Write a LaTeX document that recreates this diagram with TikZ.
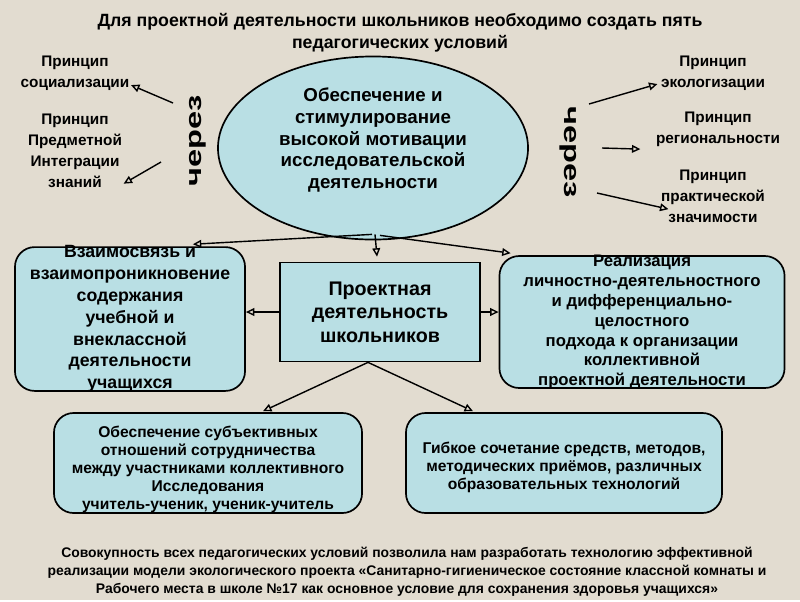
\documentclass[tikz,border=0pt]{standalone}
\usepackage{fontspec}
\setmainfont{Liberation Sans}
\usetikzlibrary{shapes.geometric, arrows.meta, positioning, calc}
\definecolor{bgcolor}{RGB}{226,220,208}
\definecolor{boxcolor}{RGB}{185,223,228}

\begin{document}
\begin{tikzpicture}[
    x=0.025cm, y=-0.025cm,
    box/.style={draw, line width=1.2pt, fill=boxcolor, rounded corners=14pt, align=center, inner xsep=2pt, inner ysep=-1pt},
    arrow/.style={-{Triangle[open, length=6pt, width=5.5pt]}, line width=1pt},
    principle/.style={align=center, font=\bfseries\fontsize{10.9}{15}\selectfont, inner sep=1pt},
    through/.style={font=\bfseries\fontsize{16}{16}\selectfont, inner sep=0pt}
]
    \fill[bgcolor] (0,0) rectangle (800,600);

    \node[align=center, font=\bfseries\fontsize{12.6}{15.6}\selectfont] (title) at (400,33) {Для проектной деятельности школьников необходимо создать пять\\педагогических условий};

    \node[ellipse, draw, line width=1.2pt, fill=boxcolor, minimum width=7.75cm, minimum height=4.575cm, inner sep=0pt, align=center, text depth=14pt, font=\bfseries\fontsize{13.3}{15.6}\selectfont] (motiv) at (373,148) {Обеспечение и\\стимулирование\\высокой мотивации\\исследовательской\\деятельности};

    \node[through, rotate=90] (throughl) at (198,141) {\scalebox{1.45}[1]{через}};
    \node[through, rotate=-90] (throughr) at (568,152) {\scalebox{1.45}[1]{через}};

    \node[principle] (soc) at (75,73) {Принцип\\социализации};
    \node[principle] (integ) at (75,151) {Принцип\\Предметной\\Интеграции\\знаний};
    \node[principle] (eco) at (713,73) {Принцип\\экологизации};
    \node[principle] (reg) at (718,129) {Принцип\\региональности};
    \node[principle] (prakt) at (713,196) {Принцип\\практической\\значимости};

    \coordinate (fromsoc) at (173,103);
    \coordinate (frominteg) at (161,162);
    \coordinate (fromeco) at (589,104);
    \coordinate (fromreg) at (602,148);
    \coordinate (fromprakt) at (597,193);
    \draw[arrow] (fromsoc) -- ([shift={(0,-7)}]soc.south east);
    \draw[arrow] (frominteg) -- ([shift={(0,-6)}]integ.south east);
    \draw[arrow] (fromeco) -- ([shift={(-2,-8)}]eco.south west);
    \draw[arrow] (fromreg) -- ([shift={(-14,1)}]reg.south west);
    \draw[arrow] (fromprakt) -- ([shift={(9,-15)}]prakt.south west);

    \node[box, minimum width=5cm, minimum height=2.475cm, rounded corners=0pt, inner ysep=2pt, font=\bfseries\fontsize{14}{16.7}\selectfont] (proj) at (380,312) {Проектная\\деятельность\\школьников};

    \node[box, minimum width=5.75cm, minimum height=3.45cm, font=\bfseries\fontsize{12.6}{15.5}\selectfont] (link) at (130,319) {Взаимосвязь и\\взаимопроникновение\\содержания\\учебной и\\внеклассной\\деятельности\\учащихся};

    \node[box, minimum width=7.125cm, minimum height=3.25cm, font=\bfseries\fontsize{11.9}{14.2}\selectfont] (approach) at (642,322) {Реализация\\личностно-деятельностного\\и дифференциально-\\целостного\\подхода к организации\\коллективной\\проектной деятельности};

    \node[box, minimum width=7.7cm, minimum height=2.5cm, inner ysep=-2pt, text height=69pt, font=\bfseries\fontsize{11.1}{12.8}\selectfont] (coop) at (208,463) {Обеспечение субъективных\\отношений сотрудничества\\между участниками коллективного\\Исследования\\учитель-ученик, ученик-учитель};

    \node[box, minimum width=7.9cm, minimum height=2.5cm, inner ysep=2pt, text height=40pt, font=\bfseries\fontsize{11.1}{12.8}\selectfont] (flex) at (564,463) {Гибкое сочетание средств, методов,\\методических приёмов, различных\\образовательных технологий};

    \draw[arrow] ([shift={(-1,-6)}]motiv.south) -- ([shift={(-53,-2)}]link.north east);
    \draw[arrow] ([shift={(2,-6)}]motiv.south) -- ([shift={(-3,-5)}]proj.north);
    \draw[arrow] ([shift={(7,-5)}]motiv.south) -- ([shift={(12,-2)}]approach.north west);
    \draw[arrow] (proj.west) -- (proj.west -| link.east);
    \draw[arrow] (proj.east) -- (proj.east -| approach.west);
    \draw[arrow] ([shift={(-12,0)}]proj.south) -- ([shift={(55,-1)}]coop.north);
    \draw[arrow] ([shift={(-12,0)}]proj.south) -- ([shift={(-91,-1)}]flex.north);

    \node[align=center, font=\bfseries\fontsize{9.9}{12.8}\selectfont] (summary) at (407,572) {Совокупность всех педагогических условий позволила нам разработать технологию эффективной\\реализации модели экологического проекта «Санитарно-гигиеническое состояние классной комнаты и\\Рабочего места в школе №17 как основное условие для сохранения здоровья учащихся»};
\end{tikzpicture}
\end{document}
